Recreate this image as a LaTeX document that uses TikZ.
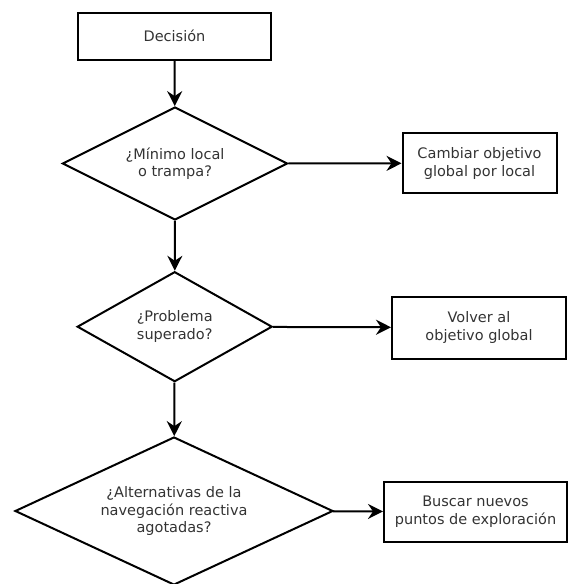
\documentclass[tikz,border=0pt]{standalone}
\usepackage{fontspec}
\setmainfont{DejaVu Sans}
\usetikzlibrary{shapes.geometric,arrows.meta}
\begin{document}
\begin{tikzpicture}[x=1pt,y=-1pt,
  every node/.style={font=\fontsize{14.5}{17.5}\selectfont, text=black!80, align=center},
  procbox/.style={draw=black, line width=2pt, rectangle, inner sep=0pt},
  decision/.style={draw=black, line width=2pt, diamond, inner sep=0pt},
  conn/.style={line width=2pt, -{Stealth[length=15pt,width=15pt,inset=5pt]}}]
\useasboundingbox (0,0) rectangle (569,584);
\node[procbox, minimum width=193pt, minimum height=47pt] (dec) at (174.5,36) {Decisión};
\node[decision, aspect=2, minimum width=225pt, minimum height=113pt] (d1) at (175,163.5) {¿Mínimo local\\o trampa?};
\node[procbox, minimum width=154pt, minimum height=60pt] (b2) at (479.5,163.3) {Cambiar objetivo\\global por local};
\node[decision, aspect=1.77, minimum width=195pt, minimum height=110pt] (d2) at (174.7,326.7) {¿Problema\\superado?};
\node[procbox, minimum width=174pt, minimum height=62pt] (b3) at (479,327.5) {Volver al\\objetivo global};
\node[decision, aspect=2.15, minimum width=318pt, minimum height=148pt] (d3) at (174,511) {¿Alternativas de la\\navegación reactiva\\agotadas?};
\node[procbox, minimum width=183pt, minimum height=60pt] (b4) at (475.5,511.7) {Buscar nuevos\\puntos de exploración};
\draw[conn] (dec) -- (d1);
\draw[conn] (d1) -- (b2);
\draw[conn] (d1) -- (d2);
\draw[conn] (d2) -- (b3);
\draw[conn] (d2) -- (d3);
\draw[conn] (d3) -- (b4);
\end{tikzpicture}
\end{document}
